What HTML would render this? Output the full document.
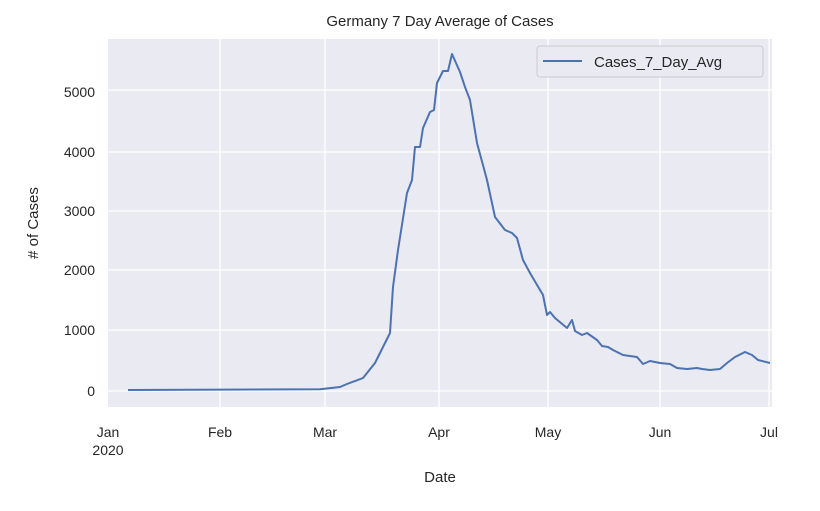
<!DOCTYPE html>
<html><head><meta charset="utf-8"><style>
body{margin:0;background:#fff;}
svg text{font-family:"Liberation Sans",sans-serif;fill:#262626;}
</style></head><body>
<svg width="820" height="506" xmlns="http://www.w3.org/2000/svg">
<rect x="108" y="39" width="664" height="368" fill="#eaeaf2"/>
<g stroke="#fff" stroke-width="1.3">
<line x1="220" y1="39" x2="220" y2="407"/>
<line x1="325" y1="39" x2="325" y2="407"/>
<line x1="439" y1="39" x2="439" y2="407"/>
<line x1="548" y1="39" x2="548" y2="407"/>
<line x1="660" y1="39" x2="660" y2="407"/>
<line x1="769" y1="39" x2="769" y2="407"/>
<line x1="108" y1="391" x2="772" y2="391"/>
<line x1="108" y1="330" x2="772" y2="330"/>
<line x1="108" y1="270" x2="772" y2="270"/>
<line x1="108" y1="211" x2="772" y2="211"/>
<line x1="108" y1="152" x2="772" y2="152"/>
<line x1="108" y1="90" x2="772" y2="90"/>
</g>
<polyline fill="none" stroke="#4c72b0" stroke-width="2" stroke-linejoin="round" points="128,390 320,389.3 340,387 347,384 363,378 375,363 390,333 393,287 398,250 407,193 412,180 415,147 420,147 423,128 430,112 434,110 437,83 443,71 448,71 452,54 460,72 465,87 470,100 477,143 487,180 495,217 505,230 512,233 517,238 523,260 530,273 543,295 547,315 550,312 555,318 567,328 572,320 575,331 582,335 587,333 597,340 602,346 608,347 613,350 623,355 637,357 643,364 650,361 660,363 670,364 677,368 687,369 697,368 702,369 710,370 720,369 727,363 735,357 745,352 752,355 758,360 770,363"/>
<rect x="537" y="46" width="226" height="31" rx="3" fill="#eaeaf2" stroke="#ccc" stroke-width="1"/>
<line x1="543" y1="61" x2="582" y2="61" stroke="#4c72b0" stroke-width="2"/>
<text x="594" y="67" font-size="15">Cases_7_Day_Avg</text>
<text x="440" y="26" font-size="15" text-anchor="middle">Germany 7 Day Average of Cases</text>
<g font-size="14" text-anchor="end">
<text x="95" y="396">0</text>
<text x="95" y="335">1000</text>
<text x="95" y="275">2000</text>
<text x="95" y="216">3000</text>
<text x="95" y="157">4000</text>
<text x="95" y="97">5000</text>
</g>
<g font-size="14" text-anchor="middle">
<text x="108" y="437">Jan</text>
<text x="108" y="455">2020</text>
<text x="220" y="437">Feb</text>
<text x="325" y="437">Mar</text>
<text x="439" y="437">Apr</text>
<text x="548" y="437">May</text>
<text x="660" y="437">Jun</text>
<text x="769" y="437">Jul</text>
</g>
<text x="440" y="482" font-size="15" text-anchor="middle">Date</text>
<text transform="translate(38,223) rotate(-90)" font-size="15" text-anchor="middle"># of Cases</text>
</svg>
</body></html>
